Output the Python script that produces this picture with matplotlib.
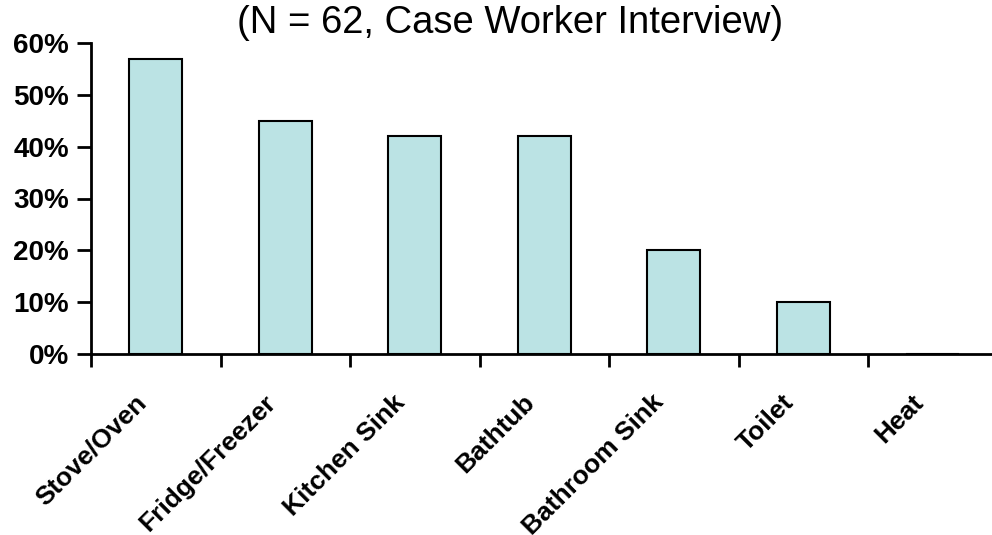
import matplotlib.pyplot as plt
from matplotlib.ticker import FixedLocator, PercentFormatter
from matplotlib.transforms import ScaledTranslation
import numpy as np

categories = ["Stove/Oven", "Fridge/Freezer", "Kitchen Sink", "Bathtub",
              "Bathroom Sink", "Toilet", "Heat"]
values = [57, 45, 42, 42, 20, 10, 0]
title = "(N = 62, Case Worker Interview)"

plt.rcParams['font.family'] = ['Liberation Sans', 'DejaVu Sans']

fig = plt.figure(figsize=(9.92, 5.35), dpi=100)
W, H = 992, 535
ax = fig.add_axes([91 / W, 1 - 354 / H, (992 - 91) / W, (354 - 43) / H])

x = np.arange(len(categories))
ax.bar(x, values, width=0.41, color="#BBE3E4", edgecolor="black", linewidth=1.5, zorder=2)

ax.set_ylim(0, 60)
ax.set_xlim(-0.5, -0.5 + (992 - 91) / 129.5)
ax.set_yticks(range(0, 61, 10))
ax.yaxis.set_major_formatter(PercentFormatter(decimals=0))
ax.tick_params(axis='y', direction='out', length=10, width=2, labelsize=20, pad=6)
for lbl in ax.get_yticklabels():
    lbl.set_fontweight('bold')

ax.set_xticks(x)
ax.set_xticklabels(categories, rotation=45, ha='right', rotation_mode='anchor',
                   fontsize=19, fontweight='bold')
ax.tick_params(axis='x', which='major', length=0, pad=26)
shift = ScaledTranslation(-22 / 100, 0, fig.dpi_scale_trans)
for lbl in ax.get_xticklabels():
    lbl.set_transform(lbl.get_transform() + shift)
ax.xaxis.set_minor_locator(FixedLocator(x - 0.5))
ax.tick_params(axis='x', which='minor', direction='out', length=9, width=2)

for s in ['top', 'right']:
    ax.spines[s].set_visible(False)
ax.spines['left'].set_linewidth(2)
ax.spines['bottom'].set_linewidth(2)

fig.text(510 / W, 1 - 23 / H, title, ha='center', va='center', fontsize=27.5)

fig.savefig("out.png", dpi=100)
